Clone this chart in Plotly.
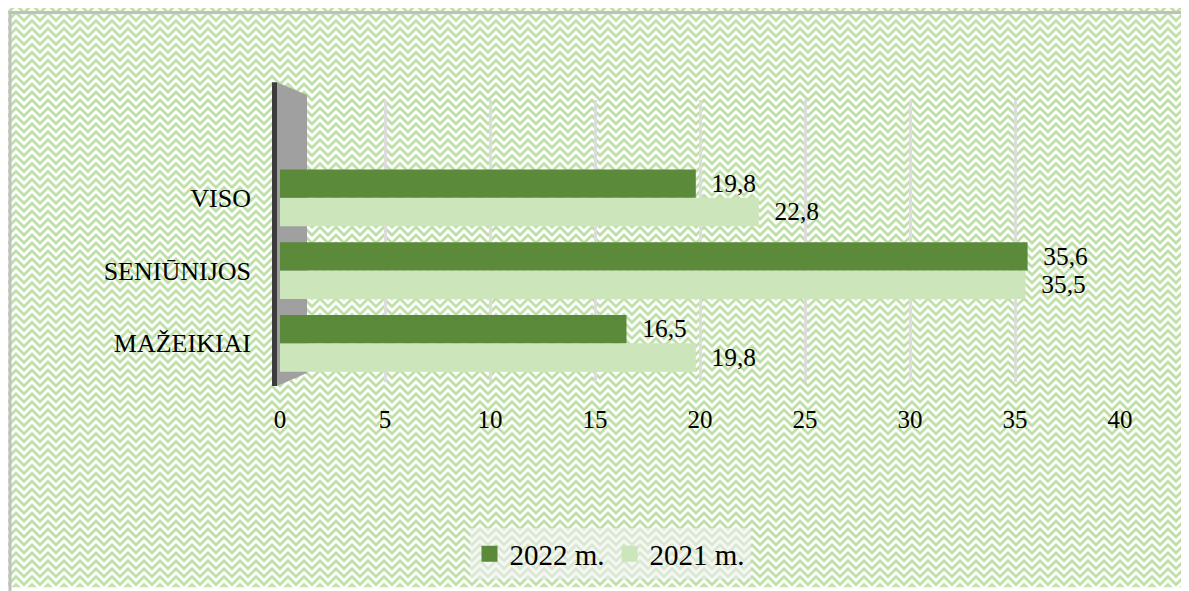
import base64
import plotly.graph_objects as go

# ---- data ----
categories = ["MAŽEIKIAI", "SENIŪNIJOS", "VISO"]
values_2022 = [16.5, 35.6, 19.8]
values_2021 = [19.8, 35.5, 22.8]
series_names = ["2021 m.", "2022 m."]
x_ticks = [0, 5, 10, 15, 20, 25, 30, 35, 40]

FONT = "Liberation Serif, Times New Roman, serif"
DARK = "#5a8a3a"
LIGHT = "#cce5bb"

# page has an 8px body margin; work in page coordinates and subtract it
OFF = 8
PAGE_W, PAGE_H = 1189, 591
W, H = PAGE_W - OFF, PAGE_H - OFF
X0_PAGE, X40_PAGE = 280, 1120      # page x of axis 0 and 40
TOP_PAGE, BOT_PAGE = 100, 384      # page y of plot top / bottom
L = X0_PAGE - OFF
T = TOP_PAGE - OFF
R = W - (X40_PAGE - OFF)
B = H - (BOT_PAGE - OFF)
PW, PH = W - L - R, H - T - B

def py(p):   # page y -> paper y
    return (BOT_PAGE - p) / PH

def px(p):   # page x -> paper x
    return (p - X0_PAGE) / PW

svg = (
    f"<svg xmlns='http://www.w3.org/2000/svg' width='{PAGE_W}' height='{PAGE_H}'>"
    "<defs><pattern id='p' width='16' height='16' patternUnits='userSpaceOnUse'>"
    "<rect width='16' height='16' fill='white'/>"
    "<path d='M-8 4 L0 -4 L8 4 L16 -4 L24 4 M-8 12 L0 4 L8 12 L16 4 L24 12 "
    "M-8 20 L0 12 L8 20 L16 12 L24 20' stroke='#bddfa6' stroke-width='2.7' fill='none'/>"
    "</pattern></defs>"
    "<rect width='100%' height='100%' fill='url(#p)'/></svg>"
)
src = "data:image/svg+xml;base64," + base64.b64encode(svg.encode()).decode()

label_font = dict(family=FONT, size=26, color="black")
fig = go.Figure()
fig.add_trace(go.Bar(
    y=categories, x=values_2021, name=series_names[0], orientation="h",
    marker=dict(color=LIGHT, line=dict(width=0)),
    texttemplate="\u2002%{x:.1f}", textposition="outside",
    textfont=label_font, cliponaxis=False, showlegend=False,
))
fig.add_trace(go.Bar(
    y=categories, x=values_2022, name=series_names[1], orientation="h",
    marker=dict(color=DARK, line=dict(width=0)),
    texttemplate="\u2002%{x:.1f}", textposition="outside",
    textfont=label_font, cliponaxis=False, showlegend=False,
))
# legend entries with larger square swatches
for name, col in [(series_names[1], DARK), (series_names[0], LIGHT)]:
    fig.add_trace(go.Scatter(
        x=[None], y=[None], mode="markers", name=name,
        marker=dict(symbol="square", size=20, color=col),
        showlegend=True, hoverinfo="skip",
    ))

shapes = [
    # outer frame
    dict(type="rect", xref="paper", yref="paper",
         x0=px(10), x1=px(1250), y0=py(650), y1=py(12),
         line=dict(color="#bfbfbf", width=3), fillcolor="rgba(0,0,0,0)", layer="below"),
    # side wall (gray)
    dict(type="path", xref="paper", yref="paper", layer="below",
         path=f"M {px(277)} {py(82)} L {px(307)} {py(95)} L {px(307)} {py(375)} L {px(277)} {py(388)} Z",
         fillcolor="#a0a0a0", line=dict(width=0)),
    # wall edge (dark)
    dict(type="rect", xref="paper", yref="paper", layer="below",
         x0=px(272), x1=px(277), y0=py(388), y1=py(82),
         fillcolor="#3c3c3c", line=dict(width=0)),
]

fig.update_layout(
    width=W, height=H,
    margin=dict(l=L, r=R, t=T, b=B),
    paper_bgcolor="white",
    plot_bgcolor="rgba(0,0,0,0)",
    separators=",.",
    barmode="group",
    bargap=0.22,
    bargroupgap=0,
    font=dict(family=FONT, size=25, color="black"),
    showlegend=True,
    legend=dict(
        orientation="h", itemsizing="trace",
        x=px(610), xanchor="center",
        y=py(557), yanchor="middle",
        font=dict(family=FONT, size=29, color="black"),
        bgcolor="rgba(240,240,240,0.55)",
        itemwidth=30,
    ),
    images=[dict(source=src, xref="paper", yref="paper",
                 x=px(0), y=py(0), sizex=PAGE_W / PW, sizey=PAGE_H / PH,
                 xanchor="left", yanchor="top", sizing="stretch", layer="below")],
    shapes=shapes,
    xaxis=dict(
        range=[0, 40], tickvals=x_ticks, showgrid=True,
        gridcolor="#dcdcdc", gridwidth=2.5, zeroline=False, showline=False,
        ticks="", ticklabelstandoff=20,
        tickfont=dict(family=FONT, size=25, color="black"),
    ),
    yaxis=dict(
        range=[-0.532, 3.345], showgrid=False, zeroline=False, showline=False,
        ticks="", ticklabelstandoff=28,
        categoryorder="array", categoryarray=categories,
        tickfont=dict(family=FONT, size=26, color="black"),
    ),
)

fig.write_html("out.html")
